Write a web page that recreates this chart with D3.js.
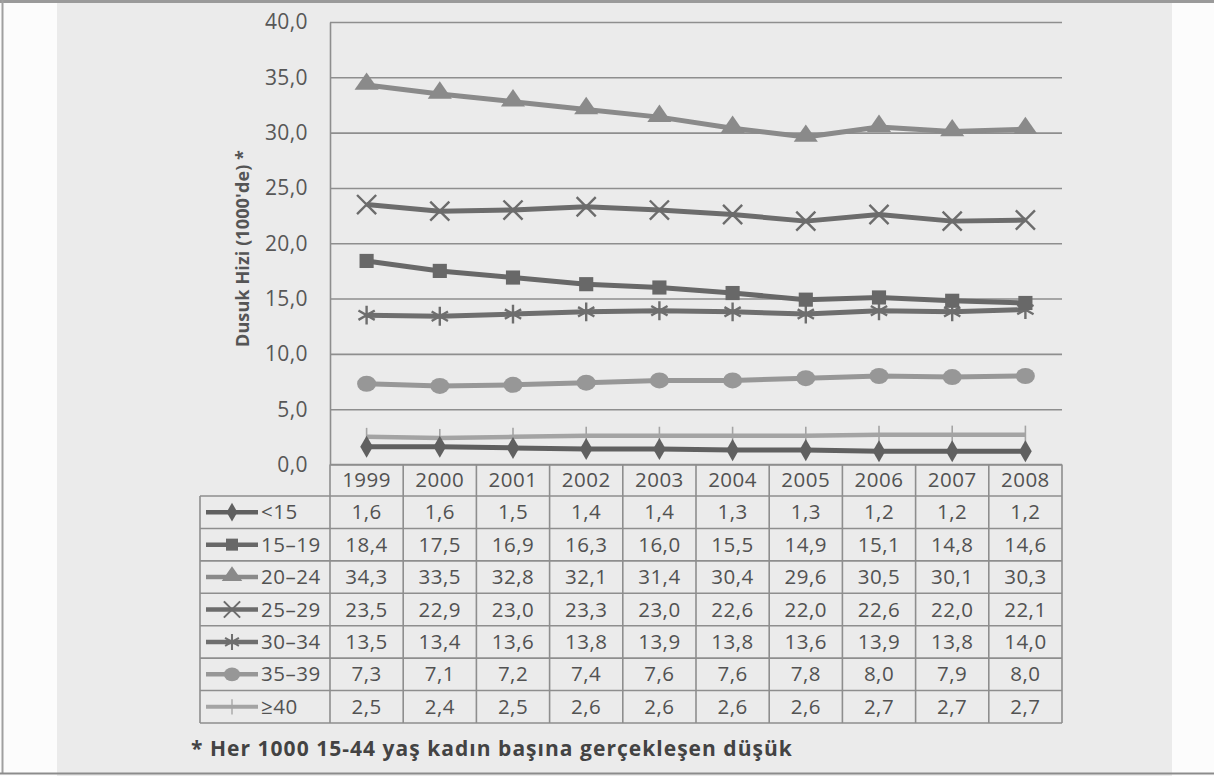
<!DOCTYPE html>
<html>
<head>
<meta charset="utf-8">
<script src="https://cdn.jsdelivr.net/npm/d3@7"></script>
<style>
  html, body { margin: 0; padding: 0; background: #fff; }
  svg { display: block; }
  text { font-family: "Open Sans", "DejaVu Sans", sans-serif; }
</style>
</head>
<body>
<svg id="chart" width="1214" height="776"></svg>
<script>
// ---------- data ----------
const years = ["1999","2000","2001","2002","2003","2004","2005","2006","2007","2008"];
const seriesNames = ["<15","15–19","20–24","25–29","30–34","35–39","≥40"];
const vLt15  = [1.6, 1.6, 1.5, 1.4, 1.4, 1.3, 1.3, 1.2, 1.2, 1.2];
const v15_19 = [18.4, 17.5, 16.9, 16.3, 16.0, 15.5, 14.9, 15.1, 14.8, 14.6];
const v20_24 = [34.3, 33.5, 32.8, 32.1, 31.4, 30.4, 29.6, 30.5, 30.1, 30.3];
const v25_29 = [23.5, 22.9, 23.0, 23.3, 23.0, 22.6, 22.0, 22.6, 22.0, 22.1];
const v30_34 = [13.5, 13.4, 13.6, 13.8, 13.9, 13.8, 13.6, 13.9, 13.8, 14.0];
const v35_39 = [7.3, 7.1, 7.2, 7.4, 7.6, 7.6, 7.8, 8.0, 7.9, 8.0];
const vGe40  = [2.5, 2.4, 2.5, 2.6, 2.6, 2.6, 2.6, 2.7, 2.7, 2.7];
const yTicks = [0, 5, 10, 15, 20, 25, 30, 35, 40];
const yTitle = "Dusuk Hizi (1000'de) *";
const footnote = "* Her 1000 15-44 yaş kadın başına gerçekleşen düşük";

const seriesValues = [vLt15, v15_19, v20_24, v25_29, v30_34, v35_39, vGe40];
const seriesStyle = [
  { color: "#606060", marker: "diamond" },
  { color: "#686868", marker: "square" },
  { color: "#8a8a8a", marker: "triangle" },
  { color: "#6c6c6c", marker: "times" },
  { color: "#6e6e6e", marker: "asterisk" },
  { color: "#979797", marker: "circle" },
  { color: "#a4a4a4", marker: "tick" }
];

// ---------- layout ----------
const W = 1214, H = 776;
const plotLeft = 330, plotRight = 1062, plotTop = 22, plotBottom = 464.5;
const tableLeft = 200, headerBottom = 496, tableBottom = 723;
const fmt = v => v.toFixed(1).replace(".", ",");

const svg = d3.select("#chart");

// paper background
svg.append("rect").attr("x", 0).attr("y", 0).attr("width", W).attr("height", H).attr("fill", "#fcfcfc");
svg.append("rect").attr("x", 57).attr("y", 0).attr("width", 1172 - 57).attr("height", H).attr("fill", "#ebebeb");
// frame
svg.append("line").attr("x1", 0).attr("x2", W).attr("y1", 1.5).attr("y2", 1.5).attr("stroke", "#9a9a9a").attr("stroke-width", 3);
svg.append("line").attr("x1", 2.5).attr("x2", 2.5).attr("y1", 0).attr("y2", 774).attr("stroke", "#a0a0a0").attr("stroke-width", 2);
svg.append("line").attr("x1", 0).attr("x2", W).attr("y1", 773.5).attr("y2", 773.5).attr("stroke", "#8c8c8c").attr("stroke-width", 2);

// scales
const x = d3.scaleBand().domain(years).range([plotLeft, plotRight]);
const y = d3.scaleLinear().domain([0, 40]).range([plotBottom, plotTop]);
const row = d3.scaleBand().domain(seriesNames).range([headerBottom, tableBottom]);

// gridlines
const grid = svg.append("g").attr("transform", `translate(${plotLeft},0)`)
  .call(d3.axisLeft(y).tickValues(yTicks).tickSize(-(plotRight - plotLeft)).tickFormat(""));
grid.select(".domain").remove();
grid.selectAll(".tick line").attr("stroke", "#8e8e8e").attr("stroke-width", 1.6);

// y axis labels
const yAxis = svg.append("g").attr("transform", `translate(${plotLeft},0)`)
  .call(d3.axisLeft(y).tickValues(yTicks).tickSize(0).tickPadding(22).tickFormat(fmt));
yAxis.select(".domain").attr("stroke", "#8e8e8e").attr("stroke-width", 1.6);
yAxis.selectAll(".tick text")
  .attr("fill", "#575757").style("font-size", "21px").style("letter-spacing", "0.4px")
  .style("font-family", "'Open Sans', sans-serif").attr("dy", "0.33em");

// y title
const yt = svg.append("text")
  .attr("transform", `translate(249,248.5) rotate(-90)`)
  .attr("text-anchor", "middle")
  .attr("fill", "#555")
  .style("font-size", "18px").style("font-weight", "bold")
  .text(yTitle);
{
  const l = yt.node().getComputedTextLength();
  yt.style("letter-spacing", ((197 - l) / (yTitle.length - 1)).toFixed(2) + "px");
}

// markers
function markerPath(type) {
  switch (type) {
    case "diamond": return d3.symbol(d3.symbolDiamond, 140)();
    case "square": return d3.symbol(d3.symbolSquare, 200)();
    case "triangle": return d3.symbol(d3.symbolTriangle, 175)();
    case "times": return d3.symbol(d3.symbolTimes, 240)();
    case "asterisk": return d3.symbol(d3.symbolAsterisk, 250)();
    case "tick": return "M0,-9L0,9";
  }
}
function drawMarker(g, type, color, cx, cy, scale) {
  scale = scale || 1;
  if (type === "circle") {
    g.append("ellipse").attr("cx", cx).attr("cy", cy).attr("rx", 9.5 * scale).attr("ry", 8 * scale).attr("fill", color);
    return;
  }
  const stroked = (type === "times" || type === "asterisk" || type === "tick");
  const p = g.append("path").attr("d", markerPath(type))
    .attr("transform", `translate(${cx},${cy}) scale(${scale})`);
  if (stroked) p.attr("fill", "none").attr("stroke", color).attr("stroke-width", type === "tick" ? 1.6 : 2.4);
  else p.attr("fill", color);
  if (type === "triangle") p.attr("transform", `translate(${cx},${cy - 1}) scale(${scale * 1.2},${scale})`);
}

// series lines
const line = d3.line().x((d, i) => x(years[i]) + x.bandwidth() / 2).y(d => y(d));
const drawOrder = [6, 5, 4, 3, 2, 1, 0];
drawOrder.forEach(si => {
  const st = seriesStyle[si];
  const g = svg.append("g");
  g.append("path").datum(seriesValues[si]).attr("d", line)
    .attr("fill", "none").attr("stroke", st.color).attr("stroke-width", si === 6 ? 4.5 : 5)
    .attr("stroke-linejoin", "round");
  seriesValues[si].forEach((v, i) => {
    drawMarker(g, st.marker, st.color, x(years[i]) + x.bandwidth() / 2, y(v));
  });
});

// ---------- data table ----------
const tbl = svg.append("g");
const bc = "#8e8e8e", bw = 1.6;
tbl.append("line").attr("x1", plotLeft).attr("x2", plotRight).attr("y1", plotBottom).attr("y2", plotBottom).attr("stroke", bc).attr("stroke-width", bw);
[headerBottom].concat(seriesNames.map(n => row(n) + row.bandwidth())).forEach(yy => {
  tbl.append("line").attr("x1", tableLeft).attr("x2", plotRight).attr("y1", yy).attr("y2", yy).attr("stroke", bc).attr("stroke-width", bw);
});
tbl.append("line").attr("x1", tableLeft).attr("x2", tableLeft).attr("y1", headerBottom).attr("y2", tableBottom).attr("stroke", bc).attr("stroke-width", bw);
years.forEach(yr => {
  tbl.append("line").attr("x1", x(yr)).attr("x2", x(yr)).attr("y1", plotBottom).attr("y2", tableBottom).attr("stroke", bc).attr("stroke-width", bw);
});
tbl.append("line").attr("x1", plotRight).attr("x2", plotRight).attr("y1", plotBottom).attr("y2", tableBottom).attr("stroke", bc).attr("stroke-width", bw);

const cellText = sel => sel.attr("fill", "#525252").style("font-size", "20.5px").style("letter-spacing", "0.5px").attr("text-anchor", "middle");
years.forEach(yr => {
  tbl.append("text").attr("x", x(yr) + x.bandwidth() / 2).attr("y", (plotBottom + headerBottom) / 2 + 7).call(cellText).text(yr);
});
seriesNames.forEach((name, si) => {
  const cy = row(name) + row.bandwidth() / 2;
  const st = seriesStyle[si];
  tbl.append("line").attr("x1", 206).attr("x2", 258).attr("y1", cy).attr("y2", cy)
    .attr("stroke", st.color).attr("stroke-width", si === 6 ? 4 : 4.5);
  drawMarker(tbl, st.marker, st.color, 232, cy, 0.85);
  tbl.append("text").attr("x", 261).attr("y", cy + 7).call(cellText).attr("text-anchor", "start").text(name);
  seriesValues[si].forEach((v, i) => {
    tbl.append("text").attr("x", x(years[i]) + x.bandwidth() / 2).attr("y", cy + 7).call(cellText).text(fmt(v));
  });
});

// footnote
const fn = svg.append("text").attr("x", 191).attr("y", 756)
  .attr("fill", "#434343").style("font-size", "21px").style("font-weight", "bold")
  .text(footnote);
const len = fn.node().getComputedTextLength();
fn.style("letter-spacing", ((601 - len) / (footnote.length - 1)).toFixed(2) + "px");
</script>
</body>
</html>
